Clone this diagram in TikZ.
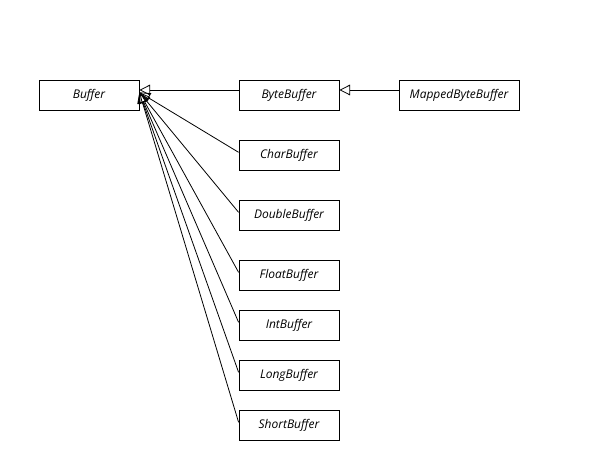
\documentclass[tikz,border=0pt]{standalone}
\usepackage{fontspec}
\setmainfont{Open Sans}
\usetikzlibrary{arrows.meta}
\begin{document}
\begin{tikzpicture}[x=0.75pt,y=-0.75pt,
  cls/.style={draw,line width=0.6pt,minimum width=75pt,minimum height=22.5pt,inner sep=0pt,font=\fontsize{9}{11}\selectfont\itshape},
  inh/.style={line width=0.6pt,-{Triangle[open,length=8pt,width=8pt]}}]
\useasboundingbox (0,0) rectangle (594,470);
\node[cls] (buffer) at (89,95) {Buffer};
\node[cls] (byte) at (289,95) {ByteBuffer};
\node[cls,minimum width=90pt] (mapped) at (459,95) {MappedByteBuffer};
\node[cls] (char) at (289,155) {CharBuffer};
\node[cls] (double) at (289,215) {DoubleBuffer};
\node[cls] (float) at (289,275) {FloatBuffer};
\node[cls] (int) at (289,325) {IntBuffer};
\node[cls] (long) at (289,375) {LongBuffer};
\node[cls] (short) at (289,425) {ShortBuffer};
\draw[inh] ([yshift=3.75pt]mapped.west) -- ([yshift=3.75pt]byte.east);
\draw[inh] ([yshift=3.75pt]byte.west) -- ([yshift=3.75pt]buffer.east);
\foreach \n in {char,double,float,int,long,short}
  \draw[inh] ([yshift=2pt]\n.west) -- ([yshift=2pt]buffer.east);
\end{tikzpicture}
\end{document}
